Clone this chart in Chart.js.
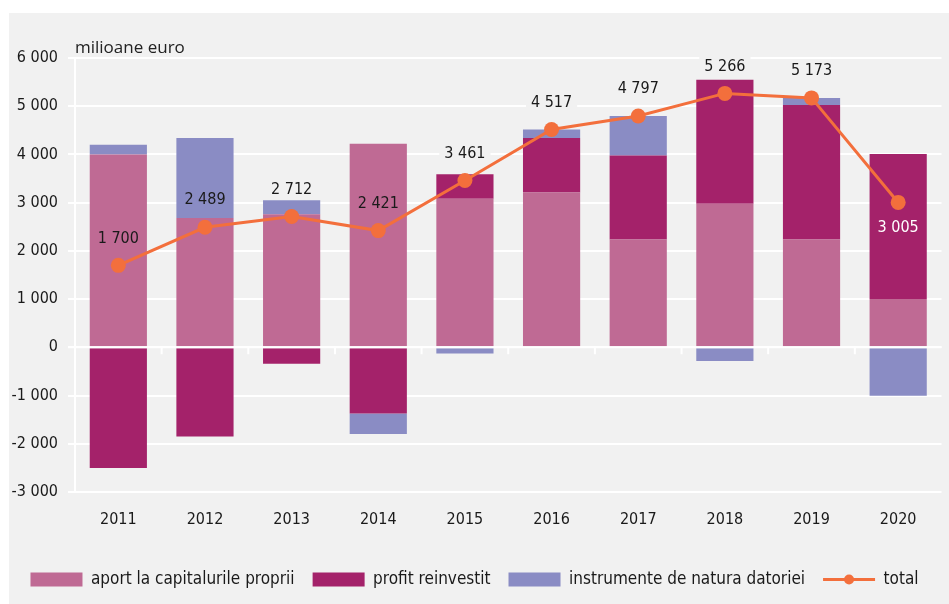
<!DOCTYPE html>
<html><head><meta charset="utf-8">
<script src="https://cdn.jsdelivr.net/npm/chart.js@4.4.1/dist/chart.umd.min.js"></script>
<style>html,body{margin:0;padding:0;background:#fff;overflow:hidden}#wrap{position:absolute;left:0;top:0;width:949px;height:604px}canvas{display:block}</style>
</head><body><div id="wrap"><canvas id="c" width="949" height="604" style="width:949px;height:604px"></canvas></div>
<script>
const categories = ['2011','2012','2013','2014','2015','2016','2017','2018','2019','2020'];
const aport = [4000, 2680, 2760, 4220, 3080, 3210, 2236, 2980, 2236, 1000];
const profit = [-2500, -1851, -338, -1370, 510, 1130, 1740, 2570, 2790, 3010];
const instrumente = [200, 1660, 290, -429, -129, 177, 821, -284, 147, -1005];
const total = [1700, 2489, 2712, 2421, 3461, 4517, 4797, 5266, 5173, 3005];
const yMin = -3000, yMax = 6000, yStep = 1000;
const seriesNames = ['aport la capitalurile proprii', 'profit reinvestit', 'instrumente de natura datoriei', 'total'];
const unitLabel = 'milioane euro';
const labelPos = ['above','above','above','above','above','above','above','above','above','below'];

const BG = '#f1f1f1';
const COND = "'Liberation Sans Narrow', 'DejaVu Sans Condensed', sans-serif";
const fmt = v => (v < 0 ? '-' : '') + Math.abs(v).toString().replace(/\B(?=(\d{3})+(?!\d))/g, ' ');

const bgPlugin = {
  id: 'bg',
  beforeDraw(chart) {
    const ctx = chart.ctx;
    ctx.save();
    ctx.fillStyle = '#ffffff';
    ctx.fillRect(0, 0, chart.width, chart.height);
    ctx.fillStyle = BG;
    ctx.fillRect(9, 13, chart.width - 9, chart.height - 13);
    ctx.restore();
  },
  afterDraw(chart) {
    const ctx = chart.ctx;
    const a = chart.chartArea;
    ctx.save();
    ctx.fillStyle = '#222';
    ctx.font = "17px 'Open Sans', sans-serif";
    ctx.textBaseline = 'alphabetic';
    ctx.textAlign = 'left';
    ctx.fillText(unitLabel, a.left, a.top - 5);
    const lg = chart.legend;
    if (lg && lg.legendHitBoxes) {
      lg.legendItems.forEach((it, k) => {
        if (it.datasetIndex === 3) {
          const hb = lg.legendHitBoxes[k];
          const bw = lg.options.labels.pointStyleWidth;
          const fs = lg.options.labels.font.size;
          ctx.fillStyle = '#f36f3c';
          ctx.beginPath();
          ctx.arc(hb.left + bw / 2, hb.top + fs / 2, 5, 0, Math.PI * 2);
          ctx.fill();
        }
      });
    }
    ctx.restore();
  }
};

const zeroPlugin = {
  id: 'zero',
  afterDatasetsDraw(chart) {
    const ctx = chart.ctx, a = chart.chartArea;
    const xs = chart.scales.x, ys = chart.scales.y;
    const y0 = ys.getPixelForValue(0);
    ctx.save();
    ctx.strokeStyle = '#ffffff';
    ctx.lineWidth = 2;
    ctx.beginPath();
    ctx.moveTo(a.left - 7, y0);
    ctx.lineTo(a.right, y0);
    for (let i = 1; i < categories.length; i++) {
      const bx = (xs.getPixelForValue(i - 1) + xs.getPixelForValue(i)) / 2;
      ctx.moveTo(bx, y0);
      ctx.lineTo(bx, y0 + 7);
    }
    ctx.stroke();
    const lineMeta = chart.getDatasetMeta(3);
    ctx.font = "16px " + COND;
    ctx.textAlign = 'center';
    ctx.textBaseline = 'middle';
    total.forEach((v, i) => {
      const p = lineMeta.data[i];
      const below = labelPos[i] === 'below';
      const cy = below ? p.y + 24 : p.y - 28;
      const txt = fmt(v);
      const w = ctx.measureText(txt).width;
      let top = Infinity, bl = 0, br = 0;
      for (let d = 0; d < 3; d++) {
        const el = chart.getDatasetMeta(d).data[i];
        const val = chart.data.datasets[d].data[i];
        if (val > 0 && el.y < top) { top = el.y; bl = el.x - el.width / 2; br = el.x + el.width / 2; }
      }
      const inside = (cy - 9 > top) && (p.x - w / 2 >= bl - 4) && (p.x + w / 2 <= br + 4);
      if (!inside) {
        ctx.fillStyle = BG;
        ctx.fillRect(p.x - w / 2 - 5, cy - 9, w + 10, 18);
      }
      ctx.fillStyle = below ? '#ffffff' : '#1a1a1a';
      ctx.fillText(txt, p.x, cy + 1);
    });
    ctx.restore();
  }
};

const barCommon = { type: 'bar', stack: 'bars', barPercentage: 0.66, categoryPercentage: 1, borderWidth: 0, order: 1 };

new Chart(document.getElementById('c'), {
  data: {
    labels: categories,
    datasets: [
      Object.assign({ label: seriesNames[0], data: aport, backgroundColor: '#bf6a94' }, barCommon),
      Object.assign({ label: seriesNames[1], data: profit, backgroundColor: '#a4226a' }, barCommon),
      Object.assign({ label: seriesNames[2], data: instrumente, backgroundColor: '#8a8cc4' }, barCommon),
      { type: 'line', label: seriesNames[3], data: total, stack: 'total', order: 0,
        borderColor: '#f36f3c', backgroundColor: '#f36f3c', borderWidth: 3,
        pointRadius: 7.5, pointHoverRadius: 7.5, pointBackgroundColor: '#f36f3c', pointBorderWidth: 0,
        tension: 0, fill: false }
    ]
  },
  options: {
    responsive: false,
    animation: false,
    devicePixelRatio: 1,
    layout: { padding: { top: 58, left: 0, right: 0, bottom: 6 } },
    scales: {
      x: {
        stacked: true,
        offset: true,
        grid: { display: false },
        border: { display: false },
        ticks: { color: '#1a1a1a', font: { family: COND, size: 16 }, padding: 10 },
        afterFit: s => { s.height = 61; }
      },
      y: {
        stacked: true,
        min: yMin, max: yMax,
        ticks: { stepSize: yStep, color: '#1a1a1a', font: { family: COND, size: 16 }, padding: 10, callback: v => fmt(v) },
        grid: { color: '#ffffff', lineWidth: 2, tickLength: 7, tickColor: '#ffffff' },
        border: { display: true, color: '#ffffff', width: 2 },
        afterFit: s => { s.width = 75; }
      }
    },
    plugins: {
      tooltip: { enabled: false },
      legend: {
        position: 'bottom',
        labels: {
          usePointStyle: true,
          pointStyleWidth: 52,
          boxHeight: 14,
          padding: 18,
          color: '#1a1a1a',
          font: { family: COND, size: 17 },
          sort: (a, b) => a.datasetIndex - b.datasetIndex,
          generateLabels: chart => {
            const items = Chart.defaults.plugins.legend.labels.generateLabels(chart);
            items.forEach(it => {
              if (it.datasetIndex === 3) {
                it.pointStyle = 'line'; it.strokeStyle = '#f36f3c'; it.lineWidth = 3; it.fillStyle = '#f36f3c';
              } else {
                it.pointStyle = 'rect'; it.lineWidth = 0;
              }
            });
            return items;
          }
        }
      }
    }
  },
  plugins: [bgPlugin, zeroPlugin]
});
</script></body></html>
